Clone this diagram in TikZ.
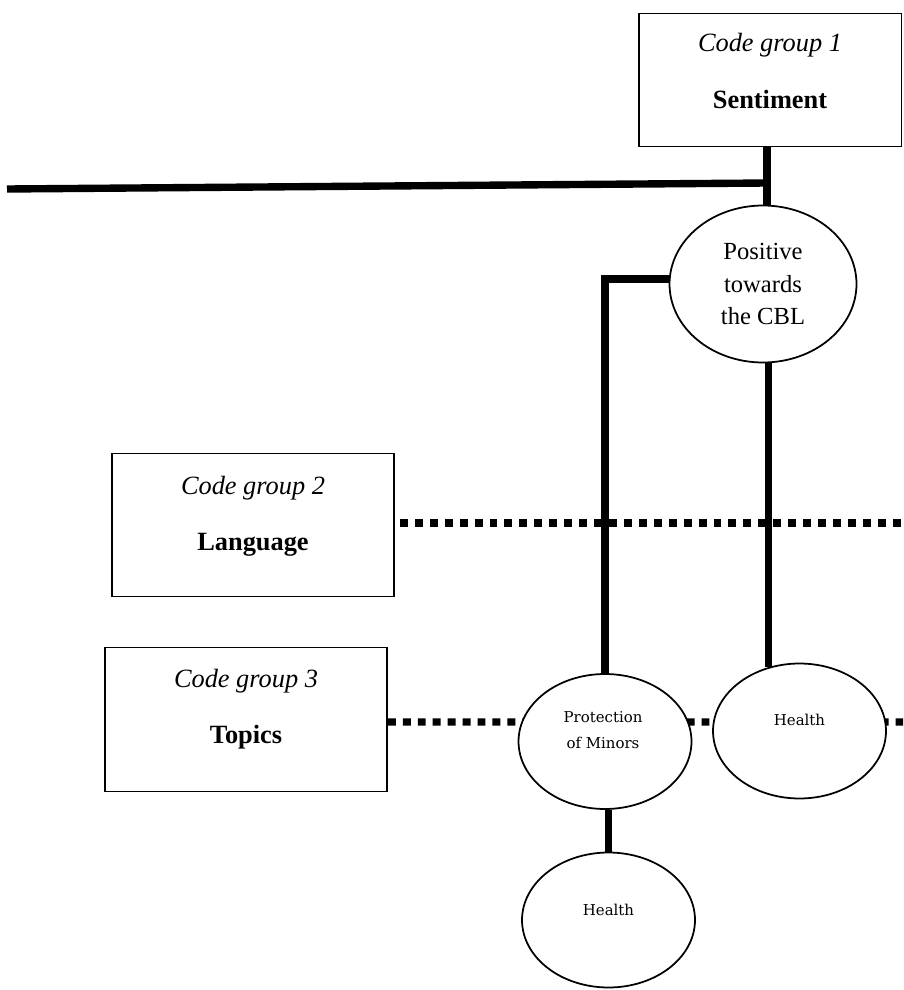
\documentclass[tikz,border=0pt]{standalone}
\usepackage{fontspec}
\setmainfont{Liberation Serif}
\newfontfamily\slabfont{DejaVu Serif}
\usetikzlibrary{shapes.geometric}
\tikzset{x=0.02cm, y=-0.02cm, % one unit is one pixel of the sketch, y downwards
codebox/.style={ % frames of the code groups
draw, rectangle, line width=1.1pt},
grouptext/.style={align=center, inner sep=0pt,
font=\fontsize{15}{32}\selectfont},
bubble/.style={ % the codes
draw, ellipse, line width=1pt, fill=white, inner sep=0pt},
smallbubble/.style={bubble, minimum width=3.46cm, minimum height=2.7cm},
codetext/.style={align=center, inner sep=0pt,
font=\slabfont\fontsize{8.5}{15}\selectfont},
link/.style={line width=4.2pt}, % solid connectors
dotlink/.style={line width=4pt, dash pattern=on 4.5pt off 4pt}}

\begin{document}
\begin{tikzpicture}
    \useasboundingbox (0,0) rectangle (903,990);

    % code groups
    \node[codebox, minimum width=5.26cm, minimum height=2.66cm] (cg1) at (770,80) {};
    \node[grouptext] (cg1text) at (770,71) {\textit{Code group 1}\\\textbf{Sentiment}};
    \node[codebox, minimum width=5.64cm, minimum height=2.86cm] (cg2) at (253,525) {};
    \node[grouptext] (cg2text) at (253,516) {\textit{Code group 2}\\\textbf{Language}};
    \node[codebox, minimum width=5.64cm, minimum height=2.88cm] (cg3) at (246,719.5) {};
    \node[grouptext] (cg3text) at (246,709) {\textit{Code group 3}\\\textbf{Topics}};

    \coordinate (lend) at (7,189);
    \coordinate (junc) at (767,183);
    \coordinate (dotend1) at (903,523);
    \coordinate (dotend2) at (903,722);

    % dotted rows go first, the white codes cover them
    \draw[dotlink] (cg2.east) ++(5,-2) -- (dotend1);
    \draw[dotlink] (cg3.east) ++(0,2.5) -- (dotend2);

    % codes
    \node[bubble, minimum width=3.74cm, minimum height=3.14cm, align=center,
      font=\fontsize{14}{18.7}\selectfont] (pos) at (763,284) {Positive\\towards\\the CBL};
    \node[smallbubble] (prot) at (605,741.5) {};
    \node[codetext] (prottext) at (603,730) {Protection\\of Minors};
    \node[smallbubble] (hlth1) at (799.5,731) {};
    \node[codetext] (hlth1text) at (799.5,720) {Health};
    \node[smallbubble] (hlth2) at (608.5,920) {};
    \node[codetext] (hlth2text) at (608.5,910) {Health};

    \draw[link] (cg1.south -| junc) -- (pos.north -| junc);
    \draw[link] (lend) -- (junc);
    \draw[link] (pos.177) -| (prot.north);
    \draw[link] (hlth1.116 |- pos.south) -- (hlth1.116);
    \draw[link] (hlth2.north |- prot.south) -- (hlth2.north);
\end{tikzpicture}
\end{document}
